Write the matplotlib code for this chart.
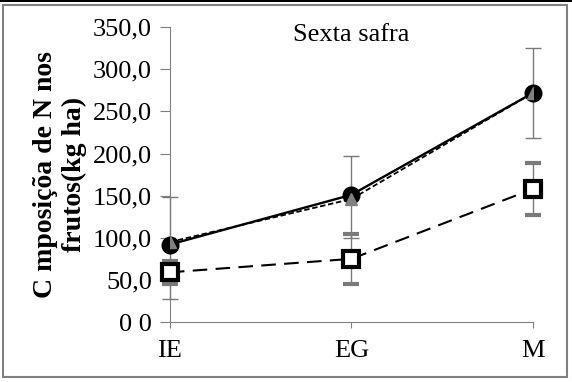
import matplotlib.pyplot as plt
from matplotlib.patches import Rectangle

plt.rcParams['font.family'] = ['Liberation Serif', 'DejaVu Serif']

estadios = ['IE', 'EG', 'M']
circulo = [92, 151, 272]
circulo_err_inf = [65, 51, 53]
circulo_err_sup = [56, 46, 53]
triangulo = [95, 146, 272]
quadrado = [59, 75, 158]
quadrado_err = [14, 30, 31]
yticks = [0, 50, 100, 150, 200, 250, 300, 350]
ylabels = ['0 0', '50,0', '100,0', '150,0', '200,0', '250,0', '300,0', '350,0']

x = list(range(len(estadios)))

fig = plt.figure(figsize=(5.72, 3.82), dpi=100)
ax = fig.add_axes([0.297, 0.157, 0.635, 0.772])

# moldura
fig.patches.append(Rectangle((0.006, 0.013), 0.985, 0.973, transform=fig.transFigure,
                             fill=False, edgecolor='#808080', linewidth=1.5))
fig.patches.append(Rectangle((0, 0.994), 1, 0.006, transform=fig.transFigure,
                             facecolor='black', edgecolor='none'))

ax.plot(x, triangulo, color='black', linestyle=(0, (3, 1.5)), linewidth=1.3, zorder=2)
eb1 = ax.errorbar(x, circulo, yerr=[circulo_err_inf, circulo_err_sup], color='black',
                  linestyle='-', linewidth=1.7, ecolor='#7a7a7a', elinewidth=1.0, capsize=6,
                  capthick=1.0, marker='o', markersize=12, markerfacecolor='black',
                  markeredgecolor='black', zorder=3)
ax.plot(x, triangulo, linestyle='none', marker='^', markersize=8, color='#808080', zorder=4)
eb2 = ax.errorbar(x, quadrado, yerr=quadrado_err, color='black', linestyle=(0, (7, 4)),
                  linewidth=1.5, ecolor='#7a7a7a', elinewidth=1.0, capsize=6, capthick=1.0,
                  marker='s', markersize=12, markerfacecolor='white', markeredgecolor='black',
                  markeredgewidth=3, zorder=3)
for eb in (eb1, eb2):
    for art in eb.lines[1] + eb.lines[2] + (eb.lines[0],):
        art.set_clip_on(False)

ax.set_xlim(0, 2)
ax.set_ylim(0, 350)
ax.set_xticks(x)
ax.set_xticklabels(estadios, fontsize=19)
ax.set_yticks(yticks)
ax.set_yticklabels(ylabels, fontsize=19)
ax.tick_params(axis='y', direction='out', length=7, color='#808080', pad=6)
ax.tick_params(axis='x', direction='out', length=4, color='#808080', pad=9)

for s in ['top', 'right']:
    ax.spines[s].set_visible(False)
for s in ['left', 'bottom']:
    ax.spines[s].set_color('#808080')

ax.set_ylabel('C mposiçõa de N nos\nfrutos(kg ha)', fontsize=20, fontweight='bold',
              linespacing=1.2, labelpad=4)
ax.text(0.5, 0.973, 'Sexta safra', transform=ax.transAxes, ha='center', va='center', fontsize=19)

fig.savefig('out.png', dpi=100)
